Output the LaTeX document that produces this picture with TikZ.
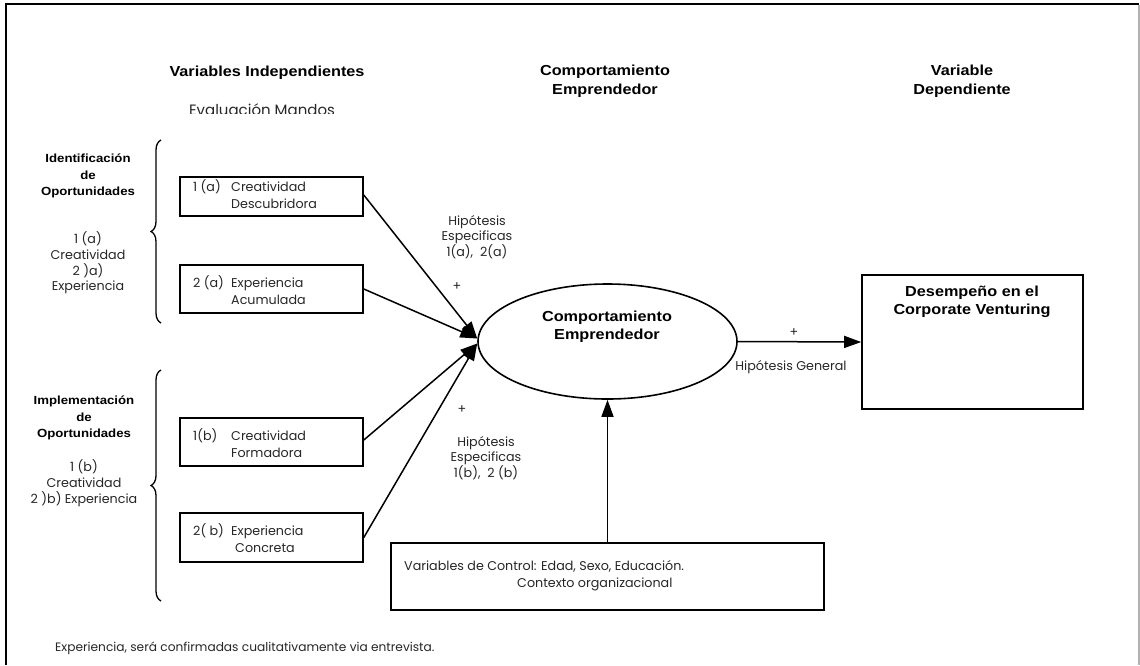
\documentclass[tikz,border=0pt]{standalone}
\usepackage{fontspec}
\setmainfont{Poppins}
\newfontfamily\headfont[FakeStretch=1.12]{Liberation Sans}
\usetikzlibrary{shapes.geometric,arrows.meta,decorations.pathreplacing,calc}
\tikzset{
  reg/.style={font=\fontsize{12.7}{15.8}\selectfont, text=black!85, inner sep=0pt, align=center},
  head/.style={font=\headfont\bfseries\fontsize{14.5}{18.5}\selectfont, inner sep=0pt, align=center},
  sub/.style={font=\headfont\bfseries\fontsize{11.8}{16.5}\selectfont, inner sep=0pt, align=center},
  varbox/.style={draw, line width=1.6pt, minimum width=183pt, inner sep=0pt},
  boxtxt/.style={font=\fontsize{12.7}{17}\selectfont, text=black!85, inner sep=0pt, align=left, anchor=west},
  conn/.style={line width=1.5pt, -{Triangle[length=17pt,width=12pt]}},
  lbrace/.style={line width=1.3pt, decorate, decoration={brace, amplitude=10pt}}
}
\begin{document}
\begin{tikzpicture}[x=1pt,y=-1pt]
\useasboundingbox (0,0) rectangle (1140,665);
% frame
\draw[line width=2.2pt] (6,665) -- (6,4) -- (1139,4);
\draw[black!30, line width=1.2pt] (1139,5) -- (1139,665);

% headings
\node[head] (h1) at (267,73) {Variables Independientes};
\begin{scope}
\clip (150,95) rectangle (380,113.5);
\node[reg, font=\fontsize{15}{18}\selectfont, anchor=base] (h1b) at (262,115) {Evaluación Mandos};
\end{scope}
\node[head] (h2) at (605,81) {Comportamiento\\Emprendedor};
\node[head] (h3) at (962,81) {Variable\\Dependiente};

% left labels
\node[sub] (ida) at (88,176) {Identificación\\de\\Oportunidades};
\node[reg] (idb) at (88,263) {1 (a)\\Creatividad\\2 )a)\\Experiencia};
\node[sub] (ima) at (84,418) {Implementación\\de\\Oportunidades};
\node[reg] (imb) at (84,483) {1 (b)\\Creatividad\\2 )b) Experiencia};

% braces
\draw[lbrace] (161,323) -- (161,140);
\draw[lbrace] (161,601) -- (161,370);

% variable boxes
\node[varbox, minimum height=39pt] (b1) at (271.5,196.5) {};
\node[boxtxt] (b1t) at (193,194) {\makebox[38pt][l]{1 (a)}Creatividad\\\hspace*{38pt}Descubridora};
\node[varbox, minimum height=48pt] (b2) at (271.5,289) {};
\node[boxtxt] (b2t) at (193,290) {\makebox[38pt][l]{2 (a)}Experiencia\\\hspace*{38pt}Acumulada};
\node[varbox, minimum height=48pt] (b3) at (271.5,442) {};
\node[boxtxt] (b3t) at (193,443.5) {\makebox[38pt][l]{1(b)}Creatividad\\\hspace*{38pt}Formadora};
\node[varbox, minimum height=49pt] (b4) at (271.5,537.5) {};
\node[boxtxt] (b4t) at (193,538.5) {\makebox[38pt][l]{2( b)}Experiencia\\\hspace*{42pt}Concreta};

% central ellipse
\node[ellipse, draw, line width=1.6pt, minimum width=259pt, minimum height=115pt, inner sep=0pt] (E) at (607.5,341.5) {};
\node[head] (Et) at (607,326.5) {Comportamiento\\Emprendedor};
\coordinate (ea) at ($(E.west)+(0,-3)$);
\coordinate (eb) at ($(E.west)+(0,2)$);

% dependent box
\node[draw, line width=1.6pt, minimum width=221pt, minimum height=134pt, inner sep=0pt] (D) at (972.5,342) {};
\node[head] (Dt) at (972,302) {Desempeño en el\\Corporate Venturing};

% control box
\node[draw, line width=1.6pt, minimum width=433pt, minimum height=67pt, inner sep=0pt] (C) at (607.5,576.5) {};
\node[reg, align=left, anchor=west, font=\fontsize{12.7}{17}\selectfont] (Ct) at (404,575.5) {Variables de Control: Edad, Sexo, Educación.\\\hspace*{113pt}Contexto organizacional};

% connectors
\draw[conn] ($(b1.east)+(0,-1.5)$) -- (ea);
\draw[conn] (b2.east) -- (ea);
\draw[conn] ($(b3.east)+(0,-2)$) -- (eb);
\draw[conn] (b4.east) -- (eb);
\draw[conn] (C.north) -- (E.south);
\draw[conn] (E.east) -- (D.west);

% hypothesis labels
\node[reg] (hA) at (477,237) {Hipótesis\\Especificas\\1(a),\ \ 2(a)};
\node[reg] (pA) at (457,287) {+};
\node[reg] (pB) at (462,410) {+};
\node[reg] (hB) at (486,458) {Hipótesis\\Especificas\\1(b),\ \ 2 (b)};
\node[reg] (pG) at (794,333) {+};
\node[reg] (hG) at (791,367) {Hipótesis General};

% footnote
\node[reg, anchor=west, font=\fontsize{12.2}{15}\selectfont] (fn) at (55,648) {Experiencia, será confirmadas cualitativamente via entrevista.};
\end{tikzpicture}
\end{document}
